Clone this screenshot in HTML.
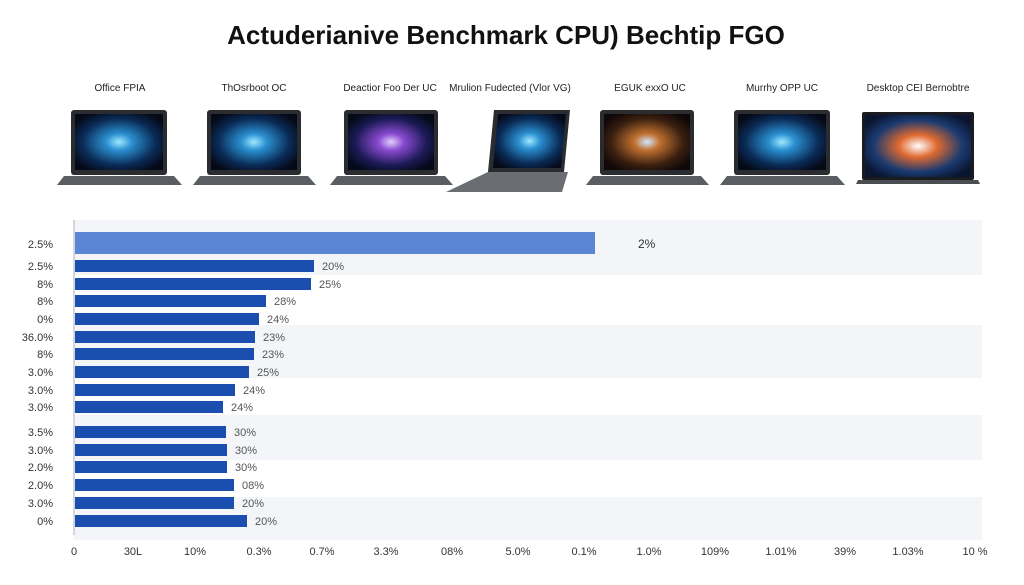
<!DOCTYPE html>
<html><head><meta charset="utf-8"><style>
body{margin:0;width:1024px;height:585px;background:#fff;font-family:"Liberation Sans",sans-serif;position:relative;overflow:hidden}
.t{position:absolute;white-space:nowrap}
</style></head><body>
<div class="t" style="left:0;width:1012px;top:20px;text-align:center;font-size:26px;font-weight:bold;color:#111">Actuderianive Benchmark CPU) Bechtip FGO</div>
<svg width="1024" height="585" style="position:absolute;left:0;top:0">
<defs>
<radialGradient id="b" cx="50%" cy="50%" r="60%"><stop offset="0" stop-color="#9fe8ff"/><stop offset="0.25" stop-color="#2a8fd0"/><stop offset="0.7" stop-color="#0a2a55"/><stop offset="1" stop-color="#050a18"/></radialGradient>
<radialGradient id="p" cx="50%" cy="50%" r="60%"><stop offset="0" stop-color="#e0d0ff"/><stop offset="0.25" stop-color="#8a4ad0"/><stop offset="0.7" stop-color="#1a1a55"/><stop offset="1" stop-color="#050a18"/></radialGradient>
<radialGradient id="o" cx="50%" cy="50%" r="60%"><stop offset="0" stop-color="#d0e8ff"/><stop offset="0.25" stop-color="#c07030"/><stop offset="0.7" stop-color="#3a2010"/><stop offset="1" stop-color="#100808"/></radialGradient>
<radialGradient id="r" cx="50%" cy="50%" r="60%"><stop offset="0" stop-color="#ffffff"/><stop offset="0.3" stop-color="#e06a30"/><stop offset="0.7" stop-color="#1a3a70"/><stop offset="1" stop-color="#0a1530"/></radialGradient>
</defs>
<g font-size="10" fill="#222" text-anchor="middle">
<text x="120" y="91">Office FPIA</text><text x="254" y="91">ThOsrboot OC</text><text x="390" y="91">Deactior Foo Der UC</text><text x="510" y="91">Mrulion Fudected (Vlor VG)</text><text x="650" y="91">EGUK exxO UC</text><text x="782" y="91">Murrhy OPP UC</text><text x="918" y="91">Desktop CEI Bernobtre</text>
</g>
<g>
<rect x="71" y="110" width="96" height="65" rx="3" fill="#2a2c30"/><rect x="75" y="114" width="88" height="56" fill="url(#b)"/><path d="M64 176h110l8 9H57z" fill="#5a5d62"/>
<rect x="207" y="110" width="94" height="65" rx="3" fill="#2a2c30"/><rect x="211" y="114" width="86" height="56" fill="url(#b)"/><path d="M200 176h108l8 9H193z" fill="#5a5d62"/>
<rect x="344" y="110" width="94" height="65" rx="3" fill="#2a2c30"/><rect x="348" y="114" width="86" height="56" fill="url(#p)"/><path d="M337 176h108l8 9H330z" fill="#5a5d62"/>
<path d="M494 110h76l-6 62h-76z" fill="#2a2c30"/><path d="M498 114h68l-5 54h-68z" fill="url(#b)"/><path d="M488 172h80l-6 20H446z" fill="#6a6d72"/>
<rect x="600" y="110" width="94" height="65" rx="3" fill="#2a2c30"/><rect x="604" y="114" width="86" height="56" fill="url(#o)"/><path d="M593 176h108l8 9H586z" fill="#5a5d62"/>
<rect x="734" y="110" width="96" height="65" rx="3" fill="#2a2c30"/><rect x="738" y="114" width="88" height="56" fill="url(#b)"/><path d="M727 176h110l8 9H720z" fill="#5a5d62"/>
<rect x="862" y="112" width="112" height="68" rx="2" fill="#1a1c20"/><rect x="865" y="115" width="106" height="62" fill="url(#r)"/><path d="M858 180h120l2 4H856z" fill="#4a4d52"/>
</g>
<rect x="74" y="220" width="908" height="55" fill="#f3f5f9"/>
<rect x="74" y="325" width="908" height="53" fill="#f3f5f9"/>
<rect x="74" y="415" width="908" height="45" fill="#f3f5f9"/>
<rect x="74" y="497" width="908" height="43" fill="#f3f5f9"/>
<line x1="74" y1="220" x2="74" y2="535" stroke="#c8cad0" stroke-width="1.5"/>
<rect x="75" y="232" width="520" height="22" fill="#5b86d6"/>
<text x="638" y="248" font-size="12" fill="#333">2%</text>
<g fill="#1a4fb0">
<rect x="75" y="260" width="239" height="12"/><rect x="75" y="278" width="236" height="12"/><rect x="75" y="295" width="191" height="12"/><rect x="75" y="313" width="184" height="12"/><rect x="75" y="331" width="180" height="12"/><rect x="75" y="348" width="179" height="12"/><rect x="75" y="366" width="174" height="12"/><rect x="75" y="384" width="160" height="12"/><rect x="75" y="401" width="148" height="12"/><rect x="75" y="426" width="151" height="12"/><rect x="75" y="444" width="152" height="12"/><rect x="75" y="461" width="152" height="12"/><rect x="75" y="479" width="159" height="12"/><rect x="75" y="497" width="159" height="12"/><rect x="75" y="515" width="172" height="12"/>
</g>
<g font-size="11" fill="#555">
<text x="322" y="270">20%</text><text x="319" y="288">25%</text><text x="274" y="305">28%</text><text x="267" y="323">24%</text><text x="263" y="341">23%</text><text x="262" y="358">23%</text><text x="257" y="376">25%</text><text x="243" y="394">24%</text><text x="231" y="411">24%</text><text x="234" y="436">30%</text><text x="235" y="454">30%</text><text x="235" y="471">30%</text><text x="242" y="489">08%</text><text x="242" y="507">20%</text><text x="255" y="525">20%</text>
</g>
<g font-size="11" fill="#333" text-anchor="end">
<text x="53" y="248">2.5%</text><text x="53" y="270">2.5%</text><text x="53" y="288">8%</text><text x="53" y="305">8%</text><text x="53" y="323">0%</text><text x="53" y="341">36.0%</text><text x="53" y="358">8%</text><text x="53" y="376">3.0%</text><text x="53" y="394">3.0%</text><text x="53" y="411">3.0%</text><text x="53" y="436">3.5%</text><text x="53" y="454">3.0%</text><text x="53" y="471">2.0%</text><text x="53" y="489">2.0%</text><text x="53" y="507">3.0%</text><text x="53" y="525">0%</text>
</g>
<g font-size="11" fill="#333" text-anchor="middle">
<text x="74" y="555">0</text><text x="133" y="555">30L</text><text x="195" y="555">10%</text><text x="259" y="555">0.3%</text><text x="322" y="555">0.7%</text><text x="386" y="555">3.3%</text><text x="452" y="555">08%</text><text x="518" y="555">5.0%</text><text x="584" y="555">0.1%</text><text x="649" y="555">1.0%</text><text x="715" y="555">109%</text><text x="781" y="555">1.01%</text><text x="845" y="555">39%</text><text x="908" y="555">1.03%</text><text x="975" y="555">10 %</text>
</g>
</svg>
</body></html>
